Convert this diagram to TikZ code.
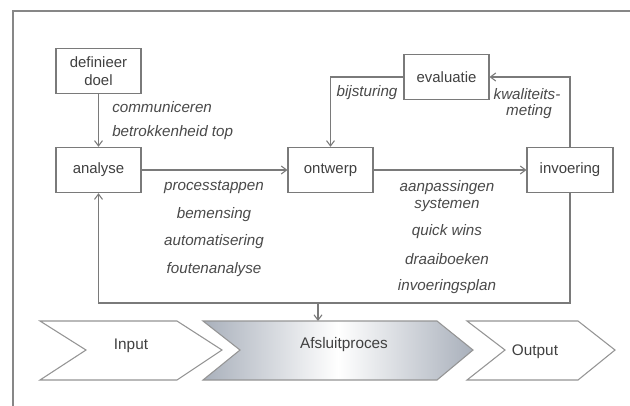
\documentclass[tikz,border=0pt]{standalone}
\usepackage{fontspec}
\setmainfont{Liberation Sans}
\usetikzlibrary{arrows.meta}
\definecolor{linegray}{HTML}{7A7A7A}
\definecolor{txtgray}{HTML}{404040}
\definecolor{lblgray}{HTML}{4A4A4A}
\definecolor{shadegray}{HTML}{A9B0BB}
\begin{document}
\begin{tikzpicture}[x=0.75pt,y=-0.75pt,
  boxnode/.style={draw=linegray,line width=0.8pt,fill=white,minimum width=63.75pt,minimum height=34pt,inner sep=1pt,align=center,text=txtgray,font=\fontsize{11.2pt}{13.5pt}\selectfont},
  lbl/.style={text=lblgray,font=\fontsize{11.4pt}{13pt}\selectfont\itshape,inner sep=0pt},
  conn/.style={draw=linegray,line width=0.8pt,-{Straight Barb[length=4pt,width=6pt]}},
  chev/.style={draw=linegray!80,line width=0.8pt},
  chevtext/.style={text=txtgray,font=\fontsize{11.5pt}{13.5pt}\selectfont}]
\useasboundingbox (0,0) rectangle (630,405);
\fill[white] (0,0) rectangle (630,405);
% frame
\draw[draw=linegray!90,line width=1pt] (13,415) -- (13,11) -- (640,11);
% boxes
\node[boxnode] (def) at (98.5,71) {definieer\\doel};
\node[boxnode] (ana) at (98.5,170) {analyse};
\node[boxnode] (ont) at (330.5,170) {ontwerp};
\node[boxnode] (eva) at (446.5,77) {evaluatie};
\node[boxnode,minimum width=64.5pt] (inv) at (570,170) {invoering};
% connectors
\draw[conn] (def) -- (ana);
\draw[conn] (ana) -- (ont);
\draw[conn] (ont) -- (inv);
\draw[conn] (eva.west) -| (ont.north);
\draw[conn] (inv.north) |- (eva.east);
\coordinate (br) at (570,303);
\coordinate (bl) at (98.5,303);
\coordinate (bm) at (318,303);
\coordinate (afstop) at (318,321);
\draw[conn] (inv.south) -- (br) -- (bl) -- (ana.south);
\draw[conn] (bm) -- (afstop);
% labels
\node[lbl,anchor=west] (l1) at (112,107) {communiceren};
\node[lbl,anchor=west] (l2) at (112,133) {betrokkenheid top};
\node[lbl] (l3) at (367,93) {bijsturing};
\node[lbl] (l4) at (527,94) {kwaliteits-};
\node[lbl] (l5) at (529,112) {meting};
\node[lbl] (p1) at (214,187) {processtappen};
\node[lbl] (p2) at (214,215) {bemensing};
\node[lbl] (p3) at (214,242) {automatisering};
\node[lbl] (p4) at (214,270) {foutenanalyse};
\node[lbl] (q1) at (447,188) {aanpassingen};
\node[lbl] (q2) at (447,205) {systemen};
\node[lbl] (q3) at (447,232) {quick wins};
\node[lbl] (q4) at (447,259) {draaiboeken};
\node[lbl] (q5) at (447,287) {invoeringsplan};
% chevrons
\draw[chev,fill=white] (40,321) -- (177,321) -- (222,350) -- (177,380) -- (40,380) -- (86,350) -- cycle;
\shade[left color=shadegray,right color=shadegray,middle color=white] (203,321) -- (437,321) -- (473,350) -- (437,380) -- (203,380) -- (240,350) -- cycle;
\draw[chev] (203,321) -- (437,321) -- (473,350) -- (437,380) -- (203,380) -- (240,350) -- cycle;
\draw[chev,fill=white] (467,321) -- (578,321) -- (615,350) -- (578,380) -- (467,380) -- (505,350) -- cycle;
\node[chevtext] (tin) at (131,346) {Input};
\node[chevtext] (taf) at (344,345) {Afsluitproces};
\node[chevtext] (tout) at (535,352) {Output};
\end{tikzpicture}
\end{document}
